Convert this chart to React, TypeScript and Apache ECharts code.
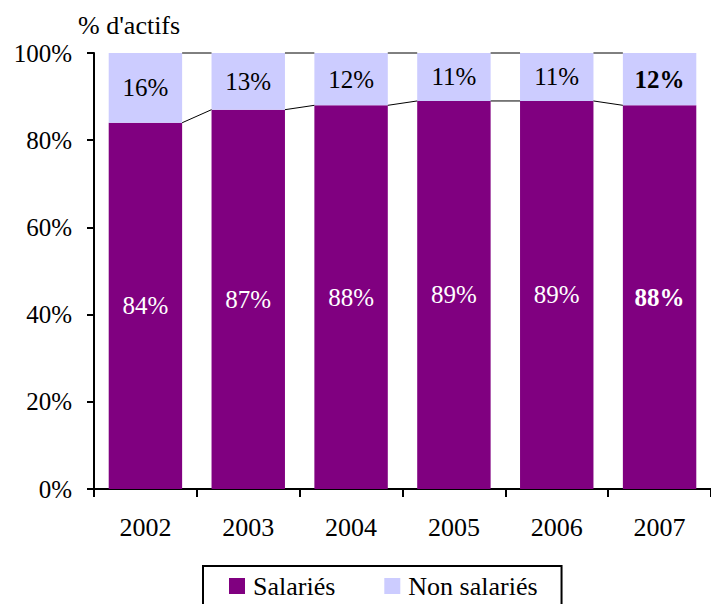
import React, { useEffect, useRef } from "react";
import * as echarts from "echarts";

const years = ["2002", "2003", "2004", "2005", "2006", "2007"];
const salaries = [84, 87, 88, 89, 89, 88];
const nonSalaries = [16, 13, 12, 11, 11, 12];
const boldIndex = 5;
const yTicks = [0, 20, 40, 60, 80, 100];

const FONT = "Liberation Serif";
const BAR_FRACTION = 0.714;

export default function App() {
  const ref = useRef<HTMLDivElement>(null);
  useEffect(() => {
    if (!ref.current) return;
    const chart = echarts.init(ref.current, null, { renderer: "svg" });

    const totals = salaries.map((v, i) => v + nonSalaries[i]);
    const salLines = salaries.slice(0, -1).map((v, i) => [i, v, salaries[i + 1]]);
    const topLines = totals.slice(0, -1).map((v, i) => [i, v, totals[i + 1]]);

    const renderLine = (params: any, api: any) => {
      const i = api.value(0);
      const a = api.coord([i, api.value(1)]);
      const b = api.coord([i + 1, api.value(2)]);
      const half = (api.size([1, 0])[0] * BAR_FRACTION) / 2;
      return {
        type: "line",
        shape: { x1: a[0] + half, y1: a[1], x2: b[0] - half, y2: b[1] },
        style: { stroke: "#000", lineWidth: 1 },
      };
    };

    chart.setOption({
      animation: false,
      textStyle: { fontFamily: FONT },
      grid: { left: 94, right: -5, top: 53, bottom: 115, containLabel: false },
      graphic: [
        {
          type: "text",
          left: 78,
          top: 12,
          style: { text: "% d'actifs", fontFamily: FONT, fontSize: 26, fill: "#000" },
        },
      ],
      legend: {
        data: ["Salariés", "Non salariés"],
        left: 203,
        top: 566,
        orient: "horizontal",
        icon: "rect",
        itemWidth: 16,
        itemHeight: 16,
        itemGap: 49,
        borderColor: "#000",
        borderWidth: 2,
        padding: [7, 24, 20, 26],
        textStyle: { fontFamily: FONT, fontSize: 26, color: "#000", padding: [0, 0, 0, 3] },
      },
      xAxis: {
        type: "category",
        data: years,
        axisLine: { lineStyle: { color: "#000", width: 2 } },
        axisTick: { show: true, length: 8, lineStyle: { color: "#000", width: 2 } },
        axisLabel: { color: "#000", fontSize: 26, fontFamily: FONT, margin: 25 },
      },
      yAxis: {
        type: "value",
        min: yTicks[0],
        max: yTicks[yTicks.length - 1],
        interval: 20,
        axisLine: { show: true, lineStyle: { color: "#000", width: 2 } },
        axisTick: { show: true, length: 7, lineStyle: { color: "#000", width: 2 } },
        splitLine: { show: false },
        axisLabel: {
          color: "#000",
          fontSize: 25,
          fontFamily: FONT,
          margin: 22,
          formatter: (v: number) => `${v}%`,
        },
      },
      series: [
        {
          name: "Salariés",
          type: "bar",
          stack: "total",
          barCategoryGap: "28.6%",
          itemStyle: { color: "#800080" },
          label: {
            show: true,
            position: "inside",
            color: "#fff",
            fontSize: 25,
            fontFamily: FONT,
            formatter: "{c}%",
          },
          data: salaries.map((v, i) =>
            i === boldIndex ? { value: v, label: { fontWeight: "bold" } } : v
          ),
        },
        {
          name: "Non salariés",
          type: "bar",
          stack: "total",
          barCategoryGap: "28.6%",
          itemStyle: { color: "#CCCCFF" },
          label: {
            show: true,
            position: "inside",
            color: "#000",
            fontSize: 25,
            fontFamily: FONT,
            formatter: "{c}%",
          },
          data: nonSalaries.map((v, i) =>
            i === boldIndex ? { value: v, label: { fontWeight: "bold" } } : v
          ),
        },
        {
          type: "custom",
          renderItem: renderLine,
          encode: { x: 0, y: 1 },
          data: salLines,
          silent: true,
          z: 5,
        },
        {
          type: "custom",
          renderItem: renderLine,
          encode: { x: 0, y: 1 },
          data: topLines,
          silent: true,
          z: 5,
        },
      ],
    });
    return () => chart.dispose();
  }, []);

  return (
    <div
      ref={ref}
      style={{ position: "absolute", left: 0, top: 0, width: 711, height: 604 }}
    />
  );
}
